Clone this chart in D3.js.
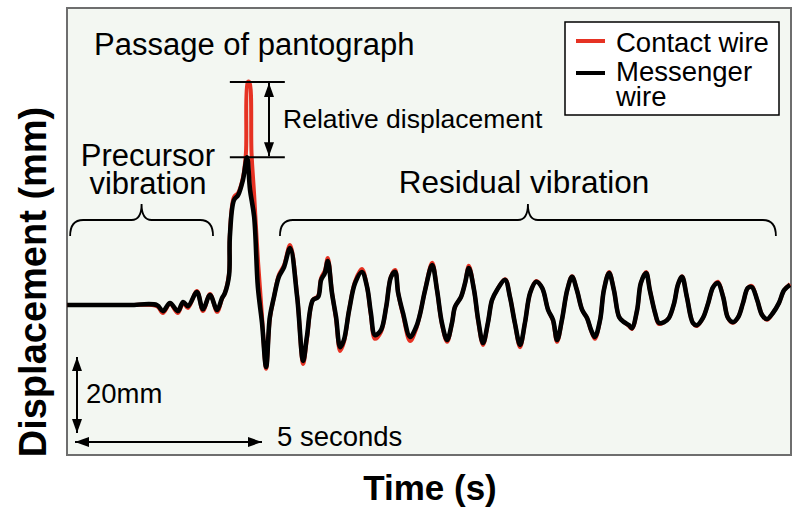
<!DOCTYPE html>
<html><head><meta charset="utf-8">
<script src="https://cdn.jsdelivr.net/npm/d3@7"></script>
<style>
html,body{margin:0;padding:0;background:#fff;}
text{font-family:"Liberation Sans",Arial,Helvetica,sans-serif;}
</style></head>
<body><div id="chart"></div>
<script>
// time (s), displacement (mm)
const messengerWire = [[-0.21,0],[0.67,0],[1.47,0],[2.19,0],[2.35,-1.6],[2.54,0.5],[2.75,-1.6],[2.89,0.8],[3.02,-0.3],[3.26,3.4],[3.42,-1.1],[3.61,2.6],[3.80,-1.3],[3.93,1.8],[4.01,3.2],[4.12,7.9],[4.14,17.9],[4.25,27.6],[4.36,28.9],[4.49,32.9],[4.60,38.9],[4.68,30.3],[4.79,23.2],[4.89,4.7],[5.00,-4.7],[5.11,-16.3],[5.21,-3.2],[5.32,2.1],[5.45,7.4],[5.59,10.0],[5.75,15.0],[5.94,2.1],[6.10,-14.7],[6.20,-8.4],[6.36,1.3],[6.50,2.1],[6.58,6.6],[6.68,8.4],[6.76,11.6],[6.87,3.2],[6.98,-3.2],[7.09,-11.1],[7.19,-9.2],[7.33,-1.3],[7.49,5.8],[7.67,8.7],[7.81,4.7],[7.91,-2.1],[8.02,-7.9],[8.18,-6.6],[8.32,-0.5],[8.45,7.4],[8.56,8.7],[8.64,3.2],[8.77,-2.1],[8.96,-8.4],[9.12,-5.8],[9.22,-2.6],[9.36,3.9],[9.55,10.5],[9.68,3.9],[9.81,-4.7],[9.95,-9.2],[10.08,-4.7],[10.16,-0.5],[10.32,2.1],[10.43,5.8],[10.53,9.7],[10.67,3.9],[10.78,-3.9],[10.91,-10.0],[11.04,-4.7],[11.15,1.3],[11.28,3.9],[11.50,6.6],[11.63,2.1],[11.76,-4.7],[11.90,-10.5],[12.03,-4.7],[12.17,3.2],[12.33,6.1],[12.49,4.5],[12.65,-1.3],[12.78,-3.9],[12.89,-9.2],[13.02,-3.9],[13.16,3.9],[13.29,7.4],[13.42,3.9],[13.56,-1.3],[13.69,-3.4],[13.80,-6.6],[13.90,-8.4],[14.04,-3.9],[14.14,3.9],[14.28,8.4],[14.41,3.9],[14.55,-3.2],[14.68,-4.5],[14.81,-5.3],[14.89,-6.1],[15.03,-1.3],[15.13,5.8],[15.27,8.4],[15.37,3.9],[15.51,-2.1],[15.61,-4.7],[15.75,-4.5],[15.88,-3.4],[16.02,0.5],[16.12,5.3],[16.23,7.4],[16.36,2.1],[16.52,-4.7],[16.63,-5.3],[16.79,-3.4],[16.93,0.5],[17.06,4.7],[17.19,5.8],[17.33,2.1],[17.46,-3.4],[17.59,-4.5],[17.73,-3.2],[17.86,0.5],[17.99,4.5],[18.10,4.7],[18.24,1.3],[18.37,-2.6],[18.50,-3.7],[18.66,-2.1],[18.82,0.5],[18.96,3.9],[19.12,5.3]];

const contactWire = [[-0.21,0],[0.67,0],[1.47,0],[2.19,-0.3],[2.35,-2.1],[2.54,0.3],[2.75,-2.1],[2.89,0.5],[3.02,-0.8],[3.26,3.7],[3.42,-1.6],[3.61,2.9],[3.80,-1.8],[3.93,1.6],[4.01,3.2],[4.12,8.5],[4.14,18.5],[4.25,28.4],[4.36,29.5],[4.49,33.5],[4.57,40],[4.62,58.7],[4.66,58.7],[4.72,40],[4.79,29],[4.89,12],[5.00,-3],[5.11,-16.8],[5.21,-3.6],[5.32,2.1],[5.45,7.9],[5.59,10.5],[5.75,15.8],[5.94,2.4],[6.10,-15.5],[6.20,-9],[6.36,1.3],[6.50,2.4],[6.58,7.1],[6.68,9],[6.76,12.4],[6.87,3.4],[6.98,-3.7],[7.09,-12.1],[7.19,-9.8],[7.33,-1.3],[7.49,6.3],[7.67,9.5],[7.81,4.7],[7.91,-2.6],[8.02,-8.9],[8.18,-7.1],[8.32,-0.5],[8.45,7.6],[8.56,9.2],[8.64,3.2],[8.77,-2.6],[8.96,-9.5],[9.12,-6.3],[9.22,-2.6],[9.36,3.9],[9.55,11.1],[9.68,3.9],[9.81,-5],[9.95,-9.7],[10.08,-4.7],[10.16,-0.5],[10.32,2.1],[10.43,5.8],[10.53,10.3],[10.67,3.9],[10.78,-4.2],[10.91,-10.5],[11.04,-4.7],[11.15,1.3],[11.28,3.9],[11.50,6.8],[11.63,2.1],[11.76,-4.7],[11.90,-11.1],[12.03,-4.7],[12.17,3.2],[12.33,6.3],[12.49,4.5],[12.65,-1.3],[12.78,-4.2],[12.89,-9.7],[13.02,-3.9],[13.16,3.9],[13.29,7.6],[13.42,3.9],[13.56,-1.3],[13.69,-3.4],[13.80,-6.8],[13.90,-8.9],[14.04,-3.9],[14.14,3.9],[14.28,8.7],[14.41,3.9],[14.55,-3.2],[14.68,-4.5],[14.81,-5.5],[14.89,-6.3],[15.03,-1.3],[15.13,5.8],[15.27,8.7],[15.37,3.9],[15.51,-2.1],[15.61,-5],[15.75,-4.5],[15.88,-3.4],[16.02,0.5],[16.12,5.3],[16.23,7.6],[16.36,2.1],[16.52,-4.7],[16.63,-5.5],[16.79,-3.4],[16.93,0.5],[17.06,4.7],[17.19,6.1],[17.33,2.1],[17.46,-3.4],[17.59,-4.7],[17.73,-3.2],[17.86,0.5],[17.99,4.5],[18.10,5],[18.24,1.3],[18.37,-2.6],[18.50,-3.9],[18.66,-2.1],[18.82,0.5],[18.96,3.9],[19.12,5.5]];

const seriesNames = ["Contact wire", "Messenger wire"];
const scaleBarTime = [0, 5];          // "5 seconds"
const scaleBarDisp = [-13.7, -33.7];  // "20mm"
const precursorSpan = [-0.13, 3.69];
const residualSpan = [5.48, 18.74];
const relDispTimes = [4.14, 5.61];
const peakContact = 58.7, peakMessenger = 38.9;

const W = 800, H = 520;
const plot = {l: 67, r: 791, t: 8, b: 455};
const x = d3.scaleLinear().domain([-0.214, 19.144]).range([plot.l, plot.r]);
const y = d3.scaleLinear().domain([-39.47, 78.16]).range([plot.b, plot.t]);

const svg = d3.select("#chart").append("svg").attr("width", W).attr("height", H);
const defs = svg.append("defs");
defs.append("marker").attr("id","ah").attr("viewBox","0 0 14 10").attr("refX",14).attr("refY",5)
  .attr("markerWidth",14).attr("markerHeight",10).attr("markerUnits","userSpaceOnUse").attr("orient","auto-start-reverse")
  .append("path").attr("d","M0,0 L14,5 L0,10 Z").attr("fill","#000");
defs.append("clipPath").attr("id","clip").append("rect")
  .attr("x",plot.l).attr("y",plot.t).attr("width",plot.r-plot.l).attr("height",plot.b-plot.t);

svg.append("rect").attr("x",plot.l).attr("y",plot.t).attr("width",plot.r-plot.l).attr("height",plot.b-plot.t)
  .attr("fill","#f3f7f2").attr("stroke","#6e6e6e").attr("stroke-width",2);

const line = d3.line().x(d=>x(d[0])).y(d=>y(d[1])).curve(d3.curveCatmullRom.alpha(0.5));
const g = svg.append("g").attr("clip-path","url(#clip)");
g.append("path").datum(contactWire).attr("d",line).attr("fill","none").attr("stroke","#e63223")
  .attr("stroke-width",4).attr("stroke-linejoin","round");
g.append("path").datum(messengerWire).attr("d",line).attr("fill","none").attr("stroke","#000")
  .attr("stroke-width",4.6).attr("stroke-linejoin","round");

// annotations
const ann = svg.append("g");
ann.append("text").attr("x",94).attr("y",55).attr("font-size",31).text("Passage of pantograph");

[peakContact, peakMessenger].forEach(v=>{
  ann.append("line").attr("x1",x(relDispTimes[0])).attr("x2",x(relDispTimes[1]))
    .attr("y1",y(v)).attr("y2",y(v)).attr("stroke","#000").attr("stroke-width",2);
});
ann.append("line").attr("x1",269).attr("x2",269).attr("y1",y(peakContact)+1).attr("y2",y(peakMessenger)-1)
  .attr("stroke","#000").attr("stroke-width",2).attr("marker-start","url(#ah)").attr("marker-end","url(#ah)");
ann.append("text").attr("x",283).attr("y",128).attr("font-size",26.5).text("Relative displacement");

function brace(x1, x2, xm){
  const yb = 236, yh = 220, yt = 204;
  return `M${x1},${yb} Q${x1},${yh} ${x1+13},${yh} L${xm-10},${yh} Q${xm},${yh} ${xm},${yt} Q${xm},${yh} ${xm+10},${yh} L${x2-13},${yh} Q${x2},${yh} ${x2},${yb}`;
}
ann.append("path").attr("d",brace(x(precursorSpan[0]),x(precursorSpan[1]),(x(precursorSpan[0])+x(precursorSpan[1]))/2))
  .attr("fill","none").attr("stroke","#000").attr("stroke-width",1.8);
ann.append("path").attr("d",brace(x(residualSpan[0]),x(residualSpan[1]),(x(residualSpan[0])+x(residualSpan[1]))/2))
  .attr("fill","none").attr("stroke","#000").attr("stroke-width",1.8);

ann.append("text").attr("x",148).attr("y",166).attr("font-size",31).attr("text-anchor","middle").text("Precursor");
ann.append("text").attr("x",148).attr("y",194).attr("font-size",31).attr("text-anchor","middle").text("vibration");
ann.append("text").attr("x",524).attr("y",193).attr("font-size",31.5).attr("text-anchor","middle").text("Residual vibration");

// scale bars
ann.append("line").attr("x1",77).attr("x2",77).attr("y1",y(scaleBarDisp[0])).attr("y2",y(scaleBarDisp[1]))
  .attr("stroke","#000").attr("stroke-width",2).attr("marker-start","url(#ah)").attr("marker-end","url(#ah)");
ann.append("text").attr("x",86).attr("y",403).attr("font-size",27.5).text("20mm");
ann.append("line").attr("x1",x(scaleBarTime[0])).attr("x2",x(scaleBarTime[1])).attr("y1",442).attr("y2",442)
  .attr("stroke","#000").attr("stroke-width",2).attr("marker-start","url(#ah)").attr("marker-end","url(#ah)");
ann.append("text").attr("x",277).attr("y",446).attr("font-size",27.5).text("5 seconds");

// legend
const lg = svg.append("g");
lg.append("rect").attr("x",565).attr("y",22).attr("width",214).attr("height",93)
  .attr("fill","#fff").attr("stroke","#000").attr("stroke-width",1.5);
lg.append("line").attr("x1",576).attr("x2",605).attr("y1",41).attr("y2",41).attr("stroke","#e63223").attr("stroke-width",4);
lg.append("line").attr("x1",576).attr("x2",605).attr("y1",73).attr("y2",73).attr("stroke","#000").attr("stroke-width",4);
lg.append("text").attr("x",616).attr("y",52).attr("font-size",27.5).text(seriesNames[0]);
lg.append("text").attr("x",616).attr("y",81).attr("font-size",27.5).text("Messenger");
lg.append("text").attr("x",616).attr("y",106).attr("font-size",27.5).text("wire");

// axis titles
svg.append("text").attr("x",430).attr("y",500).attr("text-anchor","middle").attr("font-size",35)
  .attr("font-weight","bold").text("Time (s)");
svg.append("text").attr("transform","translate(46,282) rotate(-90)").attr("text-anchor","middle")
  .attr("font-size",38).attr("font-weight","bold").text("Displacement (mm)");
</script></body></html>
